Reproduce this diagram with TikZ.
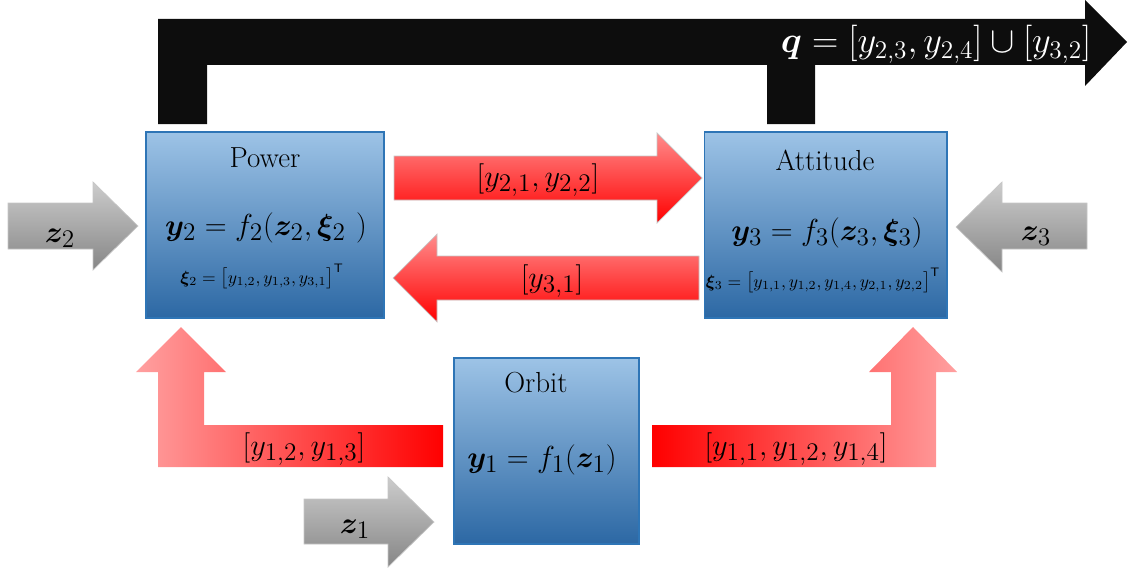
\documentclass[tikz,border=0pt]{standalone}
\usepackage{amsmath,amssymb,bm}
\usepackage{tikz}
\usetikzlibrary{positioning}
\usepackage{xcolor}
\definecolor{boxtop}{RGB}{157,195,230}
\definecolor{boxmid}{RGB}{95,155,212}
\definecolor{boxbot}{RGB}{44,104,164}
\definecolor{boxline}{RGB}{46,117,182}
\definecolor{pinkred}{RGB}{255,160,160}
\definecolor{softred}{RGB}{255,140,140}

\begin{document}
\begin{tikzpicture}[x=0.02cm,y=-0.02cm,
  block/.style={draw=boxline,line width=0.6pt,top color=boxtop,middle color=boxmid,bottom color=boxbot,inner sep=0pt,minimum height=3.72cm},
  txt/.style={inner sep=0pt,anchor=base},
  title/.style={txt,font=\fontsize{16.5}{20}\selectfont},
  eqn/.style={txt,font=\fontsize{19}{23}\selectfont},
  small/.style={txt,font=\fontsize{10}{12}\selectfont},
  lbl/.style={txt,font=\fontsize{19}{22}\selectfont},
  grayarrow/.style={draw=gray!45,line width=0.4pt,top color=gray!40,bottom color=gray!95},
  redarrow/.style={draw=gray!45,line width=0.4pt,top color=softred,bottom color=red}]
\useasboundingbox (0,0) rectangle (1128,571);

% black output arrow
\fill[black!95] (158,124) -- (158,19) -- (1085,19) -- (1085,0) -- (1127,42) -- (1085,86) -- (1085,65) -- (815,65) -- (815,124) -- (767,124) -- (767,65) -- (207,65) -- (207,124) -- cycle;
\node[lbl,text=white,font=\fontsize{19.5}{23}\selectfont] (q) at (936,53) {$\bm{q} = [y_{2,3}, y_{2,4}] \cup [y_{3,2}]$};

% disciplines
\node[block,minimum width=4.76cm] (power) at (265,225) {};
\node[block,minimum width=4.86cm] (att) at (825.5,225) {};
\node[block,minimum width=3.7cm] (orbit) at (546.5,451) {};

\node[title] (powerT) at (265,167) {Power};
\node[eqn] (powerEq) at (266,235) {$\bm{y}_2 = f_2(\bm{z}_2, \bm{\xi}_2\ )$};
\node[small] (powerXi) at (262,283) {$\bm{\xi}_2 = \big[y_{1,2}, y_{1,3}, y_{3,1}\big]^{\mathsf{T}}$};

\node[title] (attT) at (825,170) {Attitude};
\node[eqn] (attEq) at (827,240) {$\bm{y}_3 = f_3(\bm{z}_3, \bm{\xi}_3)$};
\node[small] (attXi) at (823,287) {$\bm{\xi}_3 = \big[y_{1,1}, y_{1,2}, y_{1,4}, y_{2,1}, y_{2,2}\big]^{\mathsf{T}}$};

\node[title] (orbitT) at (536,392) {Orbit};
\node[eqn] (orbitEq) at (542,467) {$\bm{y}_1 = f_1(\bm{z}_1)$};

% inputs
\shade[grayarrow] (8,203) -- (93,203) -- (93,182) -- (138,226) -- (93,270) -- (93,249) -- (8,249) -- cycle;
\node[lbl] (z2) at (60,242) {$\bm{z}_2$};
\shade[grayarrow] (1087,203) -- (1002,203) -- (1002,182) -- (956,227) -- (1002,272) -- (1002,249) -- (1087,249) -- cycle;
\node[lbl] (z3) at (1036,240) {$\bm{z}_3$};
\shade[grayarrow] (304,499) -- (388,499) -- (388,477) -- (434,522) -- (388,567) -- (388,544) -- (304,544) -- cycle;
\node[lbl] (z1) at (355,533) {$\bm{z}_1$};

% couplings
\shade[redarrow] (394,156) -- (657,156) -- (657,133) -- (702,178) -- (657,223) -- (657,200) -- (394,200) -- cycle;
\node[lbl] (y21) at (538,186) {$[y_{2,1}, y_{2,2}]$};
\shade[redarrow] (699,256) -- (437,256) -- (437,234) -- (393,278) -- (437,322) -- (437,300) -- (699,300) -- cycle;
\node[lbl] (y31) at (552,287) {$[y_{3,1}]$};

\shade[left color=pinkred,right color=red] (443,425) -- (443,467) -- (158,467) -- (158,372) -- (136,372) -- (181,327) -- (226,372) -- (204,372) -- (204,425) -- cycle;
\node[lbl] (y12) at (304,455) {$[y_{1,2}, y_{1,3}]$};
\shade[left color=red,right color=pinkred] (652,425) -- (891,425) -- (891,372) -- (869,372) -- (913,327) -- (957,372) -- (936,372) -- (936,467) -- (652,467) -- cycle;
\node[lbl] (y11) at (796,455) {$[y_{1,1}, y_{1,2}, y_{1,4}]$};
\end{tikzpicture}
\end{document}
